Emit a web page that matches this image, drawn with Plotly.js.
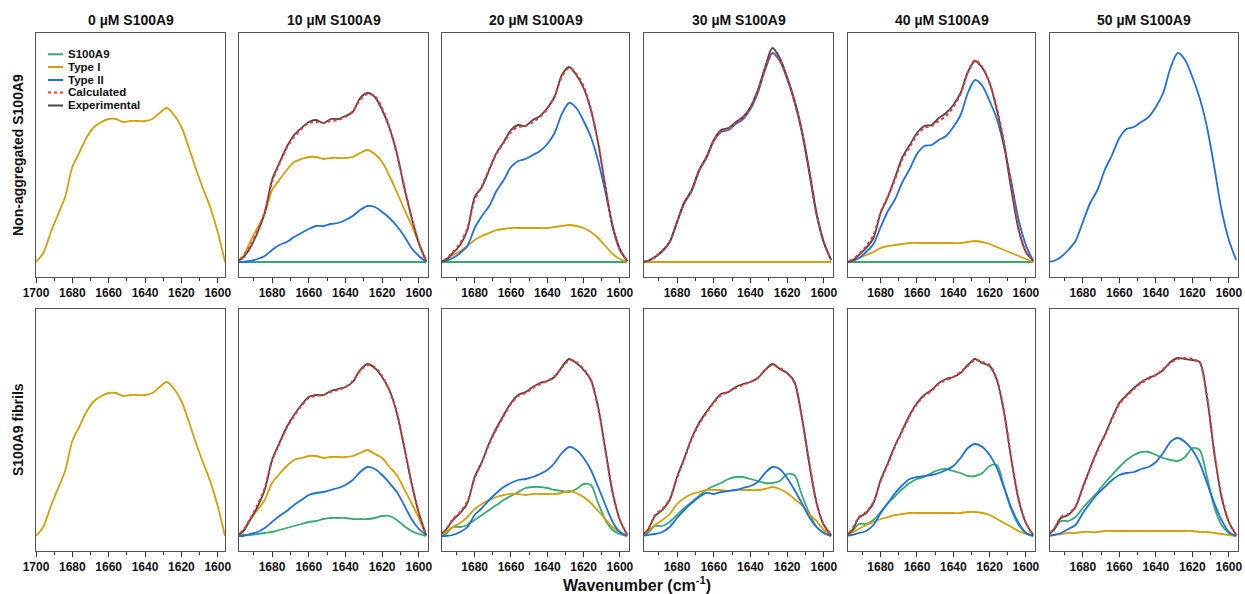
<!DOCTYPE html>
<html>
<head>
<meta charset="utf-8">
<script src="https://cdn.plot.ly/plotly-3.0.1.min.js"></script>
<style>html,body{margin:0;padding:0;background:#fff;}#chart{width:1245px;height:594px;}</style>
</head>
<body>
<div id="chart"></div>
<script>
// ---------------- DATA (heights in arbitrary absorbance units) ----------------
const wavenumber = [1700,1696,1692,1688,1684,1680,1676,1672,1668,1664,1660,1656,1652,1648,1644,1640,1636,1632,1628,1624,1620,1616,1612,1608,1604,1600,1596];

const columnTitles = ["0 µM S100A9","10 µM S100A9","20 µM S100A9","30 µM S100A9","40 µM S100A9","50 µM S100A9"];
const rowTitles = ["Non-aggregated S100A9","S100A9 fibrils"];
const seriesNames = ["S100A9","Type I","Type II","Calculated","Experimental"];

// 0 µM (pure Type I, both rows)
const typeI_0 = [0,9,29,47,65,95,110,125,135,140,143,143,140,141,141,141,143,149,154,147,135,115,93,73,54,30,0];

// Non-aggregated S100A9 row
const na10_s100 = [0,0,0,0,0,0,0,0,0,0,0,0,0,0,0,0,0,0,0,0,0,0,0,0,0,0,0];
const na10_typeI = [0,5,20,34,48,72,82,92,100,103,105,105,103,104,104,104,105,109,112,108,100,86,70,53,37,19,0];
const na10_typeII = [0,0,1,3,6,12,17,20,25,29,33,36,36,38,39,42,46,52,56,55,50,44,36,26,14,6,0];
const na10_calc = [0,5,16,31,50,80,98,114,125,133,139,140,139,141,142,145,151,162,168,166,154,135,108,76,45,19,1];
const na10_exp = [0,4,14,29,49,82,99,115,127,134,140,142,139,143,143,146,150,164,169,165,152,134,109,75,45,19,1];

const na20_s100 = [0,0,0,0,0,0,0,0,0,0,0,0,0,0,0,0,0,0,0,0,0,0,0,0,0,0,0];
const na20_typeI = [0,2,7,11,16,22,26,29,32,33,34,34,34,34,34,34,35,36,37,36,34,30,24,16,8,3,0];
const na20_typeII = [0,1,4,9,16,34,46,56,71,82,95,101,103,107,111,118,129,148,159,154,141,125,101,70,36,13,1];
const na20_calc = [0,3,10,19,34,62,76,93,108,119,130,135,136,140,145,153,166,185,194,188,176,153,120,76,36,12,1];
const na20_exp = [0,2,9,17,32,65,75,92,109,120,132,137,136,142,146,154,165,187,195,187,174,152,119,75,35,12,1];

const na30_s100 = [0,0,0,0,0,0,0,0,0,0,0,0,0,0,0,0,0,0,0,0,0,0,0,0,0,0,0];
const na30_typeI = [0,0,0,0,0,0,0,0,0,0,0,0,0,0,0,0,0,0,0,0,0,0,0,0,0,0,0];
const na30_typeII = [0,1,5,11,20,40,59,71,91,104,121,130,132,138,143,153,169,192,209,201,183,160,130,90,48,19,2];
const na30_calc = [0,1,5,11,20,40,59,72,91,104,121,131,133,139,144,154,170,193,209,202,184,161,131,91,48,20,2];
const na30_exp = [0,1,5,11,20,40,60,72,92,105,122,132,134,140,145,155,172,195,214,204,185,162,132,92,49,20,2];

const na40_s100 = [0,0,0,0,0,0,0,0,0,0,0,0,0,0,0,0,0,0,0,0,0,0,0,0,0,0,0];
const na40_typeI = [0,1,4,7,10,14,16,17,18,19,19,19,19,19,19,19,19,20,21,20,18,15,12,9,6,3,0];
const na40_typeII = [0,1,4,10,18,35,51,63,80,93,108,116,117,122,126,135,147,169,182,176,161,143,115,80,42,17,1];
const na40_calc = [0,2,8,16,27,50,66,83,103,115,127,134,136,141,146,155,168,189,202,195,179,154,119,74,33,11,1];
const na40_exp = [0,1,7,14,24,49,65,85,105,117,129,136,137,144,149,157,169,190,201,194,179,152,117,72,32,10,1];

const na50_typeII = [0,1,5,12,21,40,59,72,92,107,124,133,135,140,145,155,169,194,209,202,185,164,135,95,52,22,2];

// S100A9 fibrils row
const fb10_s100 = [0,1,1,2,3,4,6,8,10,12,14,15,17,18,18,18,17,17,17,18,20,20,16,10,5,2,0];
const fb10_typeI = [0,5,16,26,36,53,62,70,76,78,80,80,78,79,79,79,80,83,86,82,78,69,61,47,33,18,0];
const fb10_typeII = [0,0,2,4,8,14,20,25,31,36,41,43,44,46,48,51,56,64,69,67,61,53,44,31,17,7,1];
const fb10_calc = [0,5,17,31,48,75,92,108,120,130,138,140,141,144,146,149,155,165,171,169,160,145,124,90,53,23,1];
const fb10_exp = [0,4,16,29,46,76,93,109,121,131,139,141,141,145,147,149,154,166,172,168,159,146,123,89,53,23,1];

const fb20_s100 = [0,2,9,9,11,16,21,26,31,36,40,44,48,49,49,48,46,45,44,47,52,51,33,16,6,2,0];
const fb20_typeI = [0,4,9,13,19,27,32,36,39,41,42,42,41,42,42,42,42,43,45,43,39,33,25,17,9,4,0];
const fb20_typeII = [0,0,1,4,9,21,28,36,43,49,53,56,57,59,62,66,73,83,89,86,78,66,49,31,14,4,0];
const fb20_calc = [0,6,17,24,35,58,74,92,107,120,132,140,143,148,152,155,160,168,176,174,167,156,128,86,44,16,1];
const fb20_exp = [0,6,16,23,33,59,74,93,108,121,133,141,144,149,153,155,159,169,177,173,166,156,129,86,43,16,1];

const fb30_s100 = [0,3,10,10,14,21,28,34,40,46,50,53,57,59,59,57,55,53,53,55,62,61,41,23,9,3,0];
const fb30_typeI = [0,5,11,16,22,32,38,42,44,46,46,46,45,46,46,46,46,47,49,47,43,37,31,22,15,6,0];
const fb30_typeII = [0,1,2,4,9,18,26,33,39,43,42,44,45,46,48,50,54,63,69,67,58,46,33,19,9,3,0];
const fb30_calc = [0,6,21,27,37,58,77,97,112,123,133,141,144,148,151,154,158,166,171,168,163,153,119,74,34,11,1];
const fb30_exp = [0,6,20,26,36,59,78,98,113,124,134,142,144,149,152,154,158,166,172,167,163,154,119,73,33,11,1];

const fb40_s100 = [0,4,12,12,16,24,33,40,47,53,57,59,63,66,67,65,63,60,60,63,70,71,49,26,11,3,0];
const fb40_typeI = [0,3,7,11,14,17,19,21,22,23,23,23,23,23,23,23,23,24,24,23,21,17,13,9,5,2,0];
const fb40_typeII = [0,1,3,5,11,23,33,43,51,57,59,60,61,63,66,70,78,88,92,89,81,68,48,28,13,3,0];
const fb40_calc = [0,6,19,24,34,55,72,90,105,120,132,140,145,152,156,159,164,170,176,174,171,157,124,77,37,13,1];
const fb40_exp = [0,5,18,23,33,56,73,91,106,121,133,141,146,153,157,159,163,171,177,173,170,156,123,76,36,13,1];

const fb50_s100 = [0,6,15,15,19,28,36,44,53,61,69,76,81,84,84,81,78,76,75,79,88,86,59,29,11,3,0];
const fb50_typeI = [0,1,2,3,3,4,4,4,5,5,5,5,5,5,5,5,5,5,5,5,5,4,4,3,2,1,0];
const fb50_typeII = [0,1,3,7,11,23,33,42,49,56,61,63,64,67,69,74,83,94,98,94,86,73,53,33,16,4,0];
const fb50_calc = [0,7,19,22,30,48,67,85,100,117,132,140,147,153,157,161,167,173,177,178,177,173,140,84,40,14,1];
const fb50_exp = [0,6,18,21,29,49,68,86,101,118,133,141,148,154,158,161,166,174,178,177,176,174,139,83,39,14,1];

// ---------------- STYLE / LAYOUT ----------------
const W = 1245, H = 594;
const colX = [[36,225],[239,428],[442,629],[644,833],[848,1035],[1050,1238]];
const rowY = [[33,277],[309,551]];
const rowRange = [[-15,229],[-15,227]];
const colors = {s100:'#33ad6c', typeI:'#d4a005', typeII:'#1f6fe3', calc:'#ff3333', exp:'#474747'};
const FONT = 'Liberation Sans, Arial, Helvetica, sans-serif';
const px = x => x / W;
const py = y => 1 - y / H;

// panels: [row][col] -> list of [key, data]
const panels = [
  [
    [['typeI', typeI_0]],
    [['s100',na10_s100],['typeI',na10_typeI],['typeII',na10_typeII],['exp',na10_exp],['calc',na10_calc]],
    [['s100',na20_s100],['typeI',na20_typeI],['typeII',na20_typeII],['exp',na20_exp],['calc',na20_calc]],
    [['s100',na30_s100],['typeI',na30_typeI],['typeII',na30_typeII],['exp',na30_exp],['calc',na30_calc]],
    [['s100',na40_s100],['typeI',na40_typeI],['typeII',na40_typeII],['exp',na40_exp],['calc',na40_calc]],
    [['typeII', na50_typeII]]
  ],
  [
    [['typeI', typeI_0]],
    [['s100',fb10_s100],['typeI',fb10_typeI],['typeII',fb10_typeII],['exp',fb10_exp],['calc',fb10_calc]],
    [['s100',fb20_s100],['typeI',fb20_typeI],['typeII',fb20_typeII],['exp',fb20_exp],['calc',fb20_calc]],
    [['s100',fb30_s100],['typeI',fb30_typeI],['typeII',fb30_typeII],['exp',fb30_exp],['calc',fb30_calc]],
    [['s100',fb40_s100],['typeI',fb40_typeI],['typeII',fb40_typeII],['exp',fb40_exp],['calc',fb40_calc]],
    [['s100',fb50_s100],['typeI',fb50_typeI],['typeII',fb50_typeII],['exp',fb50_exp],['calc',fb50_calc]]
  ]
];

const traces = [];
const layout = {
  width: W, height: H,
  margin: {l:0, r:0, t:0, b:0},
  paper_bgcolor: '#ffffff', plot_bgcolor: '#ffffff',
  showlegend: false,
  font: {family: FONT, color: '#111'},
  annotations: [], shapes: []
};

for (let r = 0; r < 2; r++) {
  for (let c = 0; c < 6; c++) {
    const idx = r * 6 + c + 1;
    const xa = 'xaxis' + (idx === 1 ? '' : idx);
    const ya = 'yaxis' + (idx === 1 ? '' : idx);
    const xr = 'x' + (idx === 1 ? '' : idx);
    const yr = 'y' + (idx === 1 ? '' : idx);
    layout[xa] = {
      domain: [px(colX[c][0]), px(colX[c][1])],
      anchor: yr,
      range: c === 0 ? [1700, 1596] : [1698, 1595],
      showline: true, mirror: true, linecolor: '#555', linewidth: 1,
      ticks: 'outside', ticklen: 5, tickwidth: 1, tickcolor: '#333',
      tick0: 1600, dtick: 20,
      minor: {dtick: 10, ticks: 'outside', ticklen: 3, tickwidth: 1, tickcolor: '#333'},
      tickfont: {family: FONT, size: 12, color: '#111', weight: 'bold'},
      showgrid: false, zeroline: false, fixedrange: true
    };
    layout[ya] = {
      domain: [py(rowY[r][1]), py(rowY[r][0])],
      anchor: xr,
      range: rowRange[r],
      showline: true, mirror: true, linecolor: '#555', linewidth: 1,
      ticks: '', showticklabels: false, showgrid: false, zeroline: false, fixedrange: true
    };
    for (const [key, data] of panels[r][c]) {
      const t = {
        type: 'scatter', mode: 'lines', x: wavenumber, y: data,
        xaxis: xr, yaxis: yr, hoverinfo: 'skip',
        line: {color: colors[key], width: 1.8, shape: 'spline', smoothing: 0.8}
      };
      if (key === 'calc') { t.line.dash = 'dot'; t.line.width = 2; }
      traces.push(t);
    }
  }
}

// column titles
columnTitles.forEach((t, c) => {
  layout.annotations.push({
    xref: 'paper', yref: 'paper', x: px((colX[c][0] + colX[c][1]) / 2), y: py(20),
    text: '<b>' + t + '</b>', showarrow: false, xanchor: 'center', yanchor: 'middle',
    font: {family: FONT, size: 14, color: '#111'}
  });
});
// row titles
rowTitles.forEach((t, r) => {
  layout.annotations.push({
    xref: 'paper', yref: 'paper', x: px(18), y: py((rowY[r][0] + rowY[r][1]) / 2),
    text: '<b>' + t + '</b>', showarrow: false, textangle: -90, xanchor: 'center', yanchor: 'middle',
    font: {family: FONT, size: 14, color: '#111'}
  });
});
// x title
layout.annotations.push({
  xref: 'paper', yref: 'paper', x: px(637), y: py(584),
  text: '<b>Wavenumber (cm<sup>-1</sup>)</b>', showarrow: false, xanchor: 'center', yanchor: 'middle',
  font: {family: FONT, size: 16, color: '#111'}
});

// legend (drawn inside the first panel)
const legendKeys = ['s100','typeI','typeII','calc','exp'];
const legendY = [54.3, 67, 80, 92.5, 105.5];
legendKeys.forEach((k, i) => {
  layout.shapes.push({
    type: 'line', xref: 'paper', yref: 'paper',
    x0: px(48), x1: px(63), y0: py(legendY[i]), y1: py(legendY[i]),
    line: {color: colors[k], width: 2, dash: k === 'calc' ? 'dot' : 'solid'}
  });
  layout.annotations.push({
    xref: 'paper', yref: 'paper', x: px(66), y: py(legendY[i]),
    text: '<b>' + seriesNames[i] + '</b>', showarrow: false, xanchor: 'left', yanchor: 'middle',
    font: {family: FONT, size: 11.5, color: '#111'}
  });
});

Plotly.newPlot('chart', traces, layout, {staticPlot: true, displayModeBar: false});
</script>
</body>
</html>
